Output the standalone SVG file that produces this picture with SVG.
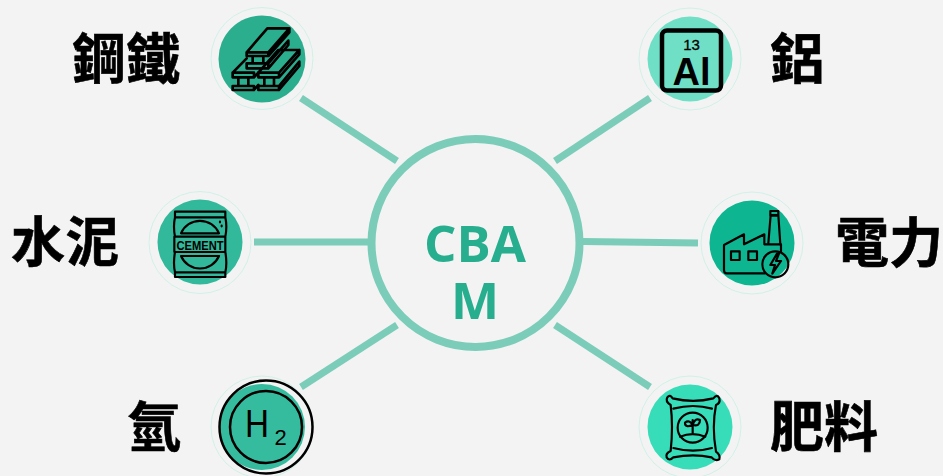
<svg xmlns="http://www.w3.org/2000/svg" width="943" height="476" viewBox="0 0 943 476">
<style>
.bg{fill:#f3f3f3}
.ring{fill:none;stroke:#c6f0e5;stroke-width:.8}
.lbl{font-family:"Noto Sans CJK TC","Noto Sans CJK SC",sans-serif;font-weight:700;font-size:54px;fill:#000;stroke:#000;stroke-width:.6}
.ctr{font-family:"Open Sans","Noto Sans",sans-serif;font-weight:700;font-size:51px;fill:#27ae8f;text-anchor:middle}
.ln{stroke:#7bcdb9;stroke-width:7;fill:none}
.ic{fill:none;stroke:#000;stroke-width:8;stroke-linejoin:round;stroke-linecap:round}
.th{stroke-width:6.500}
.itx{font-family:"Liberation Sans",Arial,sans-serif;fill:#000;text-anchor:middle}
</style>
<rect class="bg" width="943" height="476"/>
<g id="connectors">
<line class="ln" x1="301" y1="98" x2="397" y2="161"/>
<line class="ln" x1="650" y1="98" x2="555" y2="161"/>
<line class="ln" x1="254" y1="242" x2="369" y2="242"/>
<line class="ln" x1="583" y1="241.500" x2="698" y2="243"/>
<line class="ln" x1="301" y1="387" x2="397" y2="325"/>
<line class="ln" x1="650" y1="387" x2="555" y2="325"/>
</g>
<g id="center">
<circle cx="475.500" cy="243" r="104" fill="none" stroke="#7bcdb9" stroke-width="8"/>
<text class="ctr" x="475" y="262">CBA</text>
<text class="ctr" x="475" y="319">M</text>
</g>
<g id="steel">
<circle class="ring" cx="262" cy="58.500" r="51"/>
<circle cx="262" cy="59" r="43.500" fill="#2bae8e"/>
<text class="lbl" x="72" y="79">鋼鐵</text>
<g class="ic" transform="translate(210 0) scale(.3333)">
<path d="M110 157L172 85H238V97L175 168H110ZM110 157H175L238 85M175 157V168M128 168V190M160 168V190M110 190H175V205H110ZM175 205L235 135V122L175 190"/>
<path d="M145 218L205 150H268V163L207 232H145ZM145 218H207L268 150M207 218V232M163 232V258M192 232V258M145 258H207V270H145ZM207 270L268 198V185L207 258"/>
<path d="M68 218L110 175M68 218H132V232H68ZM85 232V258M115 232V258M68 258H132V270H68ZM132 270L145 255M132 232L145 218"/>
</g>
</g>
<g id="cement">
<circle class="ring" cx="200" cy="242.500" r="51"/>
<circle cx="200" cy="242" r="42.500" fill="#32b89a"/>
<text class="lbl" x="11" y="262">水泥</text>
<g class="ic th" transform="translate(145 185) scale(.3333)">
<path d="M90 80H241V97H90ZM90 97Q84 125 90 155M241 97Q247 125 241 155M88 155H241V201H88ZM90 201Q84 235 90 262M241 201Q247 235 241 262M90 262H241V276H90Z"/>
<path d="M108 145A62 62 0 0 1 222 145ZM108 213A62 62 0 0 0 222 213ZM225 110V112M230 122V124"/>
</g>
<text class="itx" x="200" y="249.500" font-size="13" font-weight="700" textLength="47" lengthAdjust="spacingAndGlyphs">CEMENT</text>
</g>
<g id="hydrogen">
<circle class="ring" cx="262" cy="427" r="51"/>
<circle cx="262" cy="427" r="43" fill="#35bc9f"/>
<circle cx="266" cy="427" r="46.500" fill="none" stroke="#000" stroke-width="2.500"/>
<circle cx="266" cy="427" r="36" fill="none" stroke="#000" stroke-width="2.500"/>
<text class="lbl" x="127" y="447">氫</text>
<text class="itx" x="257" y="437" font-size="38" textLength="24" lengthAdjust="spacingAndGlyphs">H</text>
<text class="itx" x="280.500" y="445" font-size="22">2</text>
</g>
<g id="aluminium">
<circle class="ring" cx="690" cy="59" r="51"/>
<circle cx="690" cy="59" r="42.500" fill="#6fe0c6"/>
<rect x="662" y="30.500" width="59" height="60" rx="5" fill="none" stroke="#000" stroke-width="4.500"/>
<text class="itx" x="691.500" y="50" font-size="15" stroke="#000" stroke-width=".3">13</text>
<text class="itx" x="691.500" y="85" font-size="38" font-weight="700">Al</text>
<text class="lbl" x="770" y="79">鋁</text>
</g>
<g id="power">
<circle class="ring" cx="752" cy="243" r="51"/>
<circle cx="752" cy="243" r="42.500" fill="#0db591"/>
<text class="lbl" x="835" y="263">電力</text>
<g class="ic th" transform="translate(695 185) scale(.3333)">
<path d="M210 265H95Q87 265 87 255V180L147 148V178L208 148V178H258V200"/>
<path d="M220 175L227 90H250L256 178M226 78H250V92H226Z"/>
<rect x="108" y="199" width="26" height="26"/>
<rect x="160" y="199" width="26" height="26"/>
<circle cx="241" cy="238" r="39"/>
<path d="M246 206L226 240H240L232 266L258 228H243L252 206Z"/>
</g>
</g>
<g id="fertilizer">
<circle class="ring" cx="690" cy="427" r="51"/>
<circle cx="690" cy="427" r="42.500" fill="#36ddb8"/>
<text class="lbl" x="770" y="447">肥料</text>
<g class="ic th" transform="translate(630 370) scale(.3333)">
<path d="M128 85Q190 100 250 85Q262 70 268 85Q272 100 258 105Q245 170 258 245Q272 255 268 268Q255 275 245 262Q190 250 130 262Q118 275 110 262Q106 250 122 243Q130 170 122 105Q105 95 112 82Q120 72 128 85Z"/>
<path d="M130 116Q190 100 246 116M130 234Q190 250 246 234"/>
<circle cx="188" cy="173" r="45"/>
<path d="M188 150V190M188 165Q165 175 165 158Q178 148 188 165M188 165Q210 170 210 150Q195 142 188 165M150 200Q188 185 226 200"/>
</g>
</g>
</svg>
